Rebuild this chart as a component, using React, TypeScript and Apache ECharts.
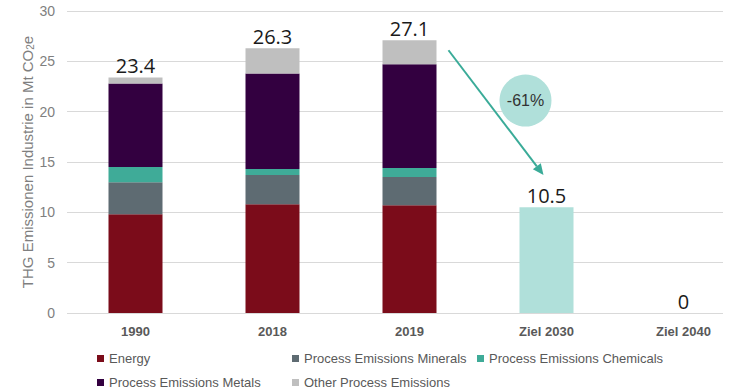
import React, { useEffect, useRef } from "react";
import * as echarts from "echarts";

const categories = ["1990", "2018", "2019", "Ziel 2030", "Ziel 2040"];
const energy = [9.8, 10.8, 10.7, "-", "-"];
const minerals = [3.2, 2.9, 2.8, "-", "-"];
const chemicals = [1.5, 0.6, 0.9, "-", "-"];
const metals = [8.3, 9.5, 10.3, "-", "-"];
const otherProcess = [0.6, 2.5, 2.4, "-", "-"];
const targets = ["-", "-", "-", 10.5, 0];
const totals = [23.4, 26.3, 27.1];
const yTicks = { min: 0, max: 30, interval: 5 };
const seriesNames = [
  "Energy",
  "Process Emissions Minerals",
  "Process Emissions Chemicals",
  "Process Emissions Metals",
  "Other Process Emissions",
];
const colors = ["#7b0c1a", "#5e6b72", "#3fab98", "#330040", "#bfbfbf"];
const targetColor = "#b0e0da";
const reductionLabel = "-61%";

const FONT = "Liberation Sans, Arial, sans-serif";

export default function App() {
  const ref = useRef<HTMLDivElement>(null);
  useEffect(() => {
    if (!ref.current) return;
    document.body.style.margin = "0";
    const chart = echarts.init(ref.current, null, { renderer: "svg" });
    const values = [energy, minerals, chemicals, metals, otherProcess];
    const legendPos = [
      { left: 97, top: 352 },
      { left: 292, top: 352 },
      { left: 477, top: 352 },
      { left: 97, top: 376 },
      { left: 292, top: 376 },
    ];
    const series: any[] = values.map((v, i) => ({
      name: seriesNames[i],
      type: "bar",
      stack: "total",
      xAxisIndex: 1,
      yAxisIndex: 1,
      barWidth: 54,
      data: v,
      itemStyle: { color: colors[i] },
      label:
        i === 4
          ? {
              show: true,
              position: "top",
              distance: 2,
              fontFamily: "Open Sans, sans-serif",
              fontSize: 20,
              color: "#1a1a1a",
              formatter: (p: any) => String(totals[p.dataIndex]),
            }
          : { show: false },
    }));
    series.push({
      name: "Ziel",
      type: "bar",
      stack: "total",
      xAxisIndex: 1,
      yAxisIndex: 1,
      barWidth: 54,
      data: targets,
      itemStyle: { color: targetColor },
      label: {
        show: true,
        position: "top",
        distance: 2,
        fontFamily: "Open Sans, sans-serif",
        fontSize: 20,
        color: "#1a1a1a",
        formatter: (p: any) => String(p.value),
      },
    });
    chart.setOption({
      animation: false,
      grid: [
        { left: 67, width: 656, top: 11, height: 302, outerBoundsMode: "none" },
        { left: 67, width: 685, top: 11, height: 302, outerBoundsMode: "none" },
      ],
      legend: seriesNames.map((n, i) => ({
        data: [n],
        left: legendPos[i].left,
        top: legendPos[i].top,
        padding: 0,
        itemWidth: 7,
        itemHeight: 7,
        icon: "rect",
        selectedMode: false,
        textStyle: { fontFamily: FONT, fontSize: 13, color: "#595959" },
      })),
      xAxis: [
        { type: "category", gridIndex: 0, data: categories, show: false },
        {
          type: "category",
          gridIndex: 1,
          data: categories,
          axisLine: { show: false },
          axisTick: { show: false },
          axisLabel: {
            fontFamily: FONT,
            fontSize: 13,
            fontWeight: "bold",
            color: "#595959",
            margin: 12,
          },
        },
      ],
      yAxis: [
        {
          type: "value",
          gridIndex: 0,
          min: yTicks.min,
          max: yTicks.max,
          interval: yTicks.interval,
          axisLine: { show: false },
          axisTick: { show: false },
          splitLine: { lineStyle: { color: "#d9d9d9", width: 1 } },
          axisLabel: { fontFamily: FONT, fontSize: 14, color: "#7f7f7f", margin: 12 },
          name: "THG Emissionen Industrie in Mt CO{sub|2}e",
          nameLocation: "middle",
          nameGap: 32,
          nameMoveOverlap: false,
          nameTextStyle: {
            fontFamily: FONT,
            fontSize: 15,
            color: "#7f7f7f",
            rich: {
              sub: { fontFamily: FONT, fontSize: 10, color: "#7f7f7f", verticalAlign: "bottom", padding: [6, 0, 0, 0] },
            },
          },
        },
        {
          type: "value",
          gridIndex: 1,
          min: yTicks.min,
          max: yTicks.max,
          interval: yTicks.interval,
          show: false,
          splitLine: { show: false },
        },
      ],
      series,
    });

    const px = (cat: string, val: number) =>
      chart.convertToPixel({ xAxisIndex: 1, yAxisIndex: 1 }, [cat, val]) as number[];
    const start = px("2019", 26.1);
    const end = px("Ziel 2030", 13.7);
    const sx = start[0] + 39;
    const sy = start[1];
    const ex = end[0] - 3;
    const ey = end[1];
    const ang = Math.atan2(ey - sy, ex - sx);
    const headLen = 11;
    const headW = 5;
    const bx = ex - headLen * Math.cos(ang);
    const by = ey - headLen * Math.sin(ang);
    const nx = -Math.sin(ang);
    const ny = Math.cos(ang);
    const circ = px("Ziel 2030", 21.1);
    chart.setOption({
      graphic: [
        {
          type: "circle",
          shape: { cx: circ[0] - 21, cy: circ[1], r: 26 },
          style: { fill: targetColor },
          z: 10,
        },
        {
          type: "text",
          x: circ[0] - 21,
          y: circ[1],
          style: {
            text: reductionLabel,
            fontFamily: FONT,
            fontSize: 16,
            fill: "#333333",
            align: "center",
            verticalAlign: "middle",
          },
          z: 11,
        },
        {
          type: "line",
          shape: { x1: sx, y1: sy, x2: bx, y2: by },
          style: { stroke: "#3aab98", lineWidth: 2 },
          z: 12,
        },
        {
          type: "polygon",
          shape: {
            points: [
              [ex, ey],
              [bx + nx * headW, by + ny * headW],
              [bx - nx * headW, by - ny * headW],
            ],
          },
          style: { fill: "#3aab98" },
          z: 12,
        },
      ],
    });
    return () => chart.dispose();
  }, []);
  return <div ref={ref} style={{ width: 730, height: 389 }} />;
}
